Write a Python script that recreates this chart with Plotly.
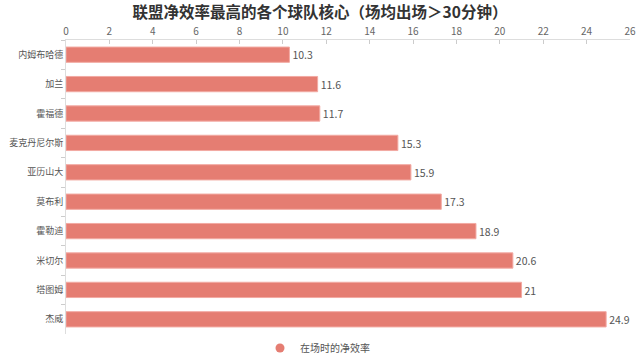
import plotly.graph_objects as go

players = ["内姆布哈德", "加兰", "霍福德", "麦克丹尼尔斯", "亚历山大", "莫布利", "霍勒迪", "米切尔", "塔图姆", "杰威"]
net_rating = [10.3, 11.6, 11.7, 15.3, 15.9, 17.3, 18.9, 20.6, 21, 24.9]
series_name = "在场时的净效率"
title_text = "联盟净效率最高的各个球队核心（场均出场＞30分钟）"
x_ticks = list(range(0, 27, 2))

bar_color = "#e57d72"
font_family = "Noto Sans CJK SC, Microsoft YaHei, sans-serif"

fig = go.Figure()
fig.add_trace(go.Bar(
    y=players, x=net_rating, orientation="h",
    marker=dict(color=bar_color, line=dict(color="#f2aaa3", width=1)),
    width=0.52,
    text=[str(v) for v in net_rating], textposition="outside",
    textfont=dict(size=11, color="#555555"),
    cliponaxis=False, showlegend=False, name=series_name,
))
fig.add_trace(go.Scatter(
    x=[None], y=[None], mode="markers", name=series_name,
    marker=dict(symbol="circle", size=9, color=bar_color),
    showlegend=True,
))

fig.update_layout(
    width=640, height=358,
    margin=dict(l=66, r=10, t=40, b=24, autoexpand=False),
    paper_bgcolor="white", plot_bgcolor="white",
    font=dict(family=font_family, size=11, color="#555555"),
    title=dict(text="<b>" + title_text + "</b>", x=0.5, xanchor="center",
               y=1 - 13 / 358, yanchor="middle", yref="container",
               font=dict(size=15.5, color="#333333")),
    xaxis=dict(side="top", range=[0, 26], tickvals=x_ticks, ticktext=[str(t) for t in x_ticks],
               showgrid=False, zeroline=False, showline=True, linecolor="#dddddd", linewidth=1,
               ticks="inside", ticklen=4, tickcolor="#cccccc", automargin=False,
               tickfont=dict(size=10, color="#666666")),
    yaxis=dict(autorange="reversed", showgrid=False, showline=True, linecolor="#dddddd",
               ticks="outside", tickson="boundaries", ticklen=4, tickcolor="#cccccc",
               automargin=False, tickfont=dict(size=9, color="#555555")),
    legend=dict(orientation="h", x=(260 - 66) / 564, xanchor="left",
                y=-14 / 294, yanchor="middle",
                font=dict(size=10, color="#555555"), itemwidth=30),
    bargap=0.48,
)

fig.write_html("out.html", config={"displayModeBar": False},
               post_script="document.body.style.margin='0';document.body.style.overflow='hidden';")
